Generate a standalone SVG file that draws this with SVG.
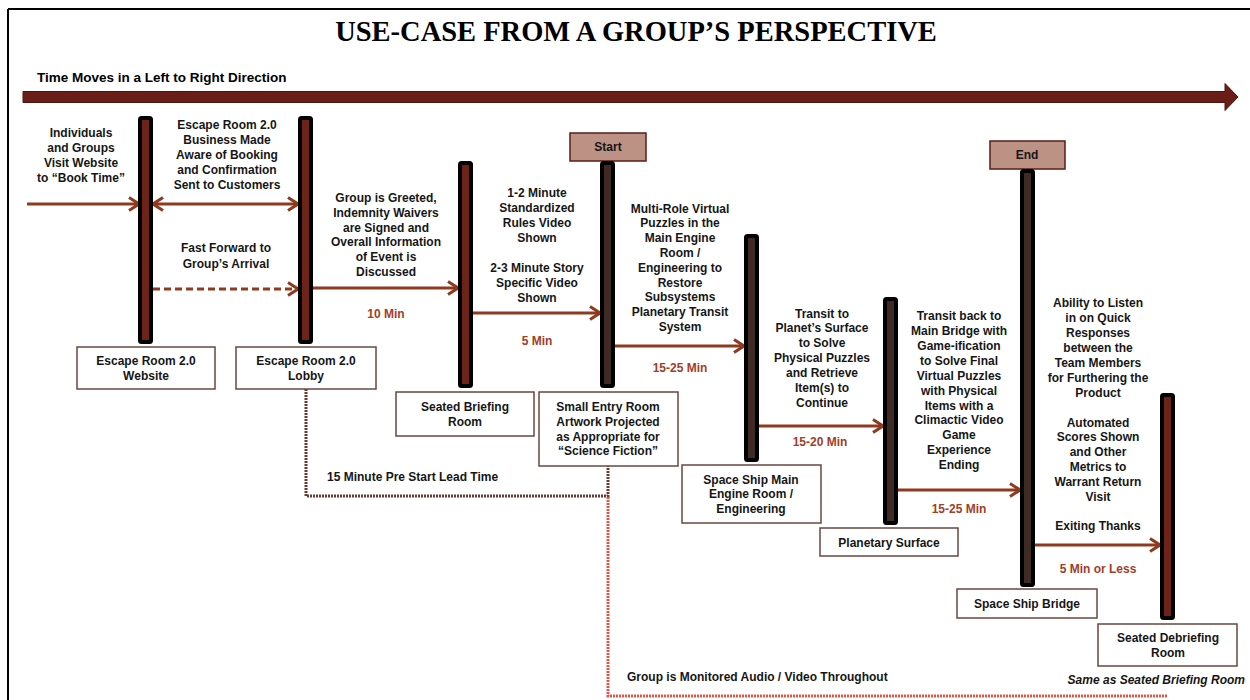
<svg xmlns="http://www.w3.org/2000/svg" width="1250" height="700" viewBox="0 0 1250 700">
<defs>
<style>
.t{font-family:"Liberation Sans",Arial,sans-serif;font-weight:bold;font-size:12px;fill:#161616;text-anchor:middle}
.tl{text-anchor:start}
.d{font-family:"Liberation Sans",Arial,sans-serif;font-weight:bold;font-size:12px;fill:#a13e28;text-anchor:middle}
.box{fill:#fff;stroke:#6b4640;stroke-width:1.5}
.tag{fill:#bc9285;stroke:#5a1d16;stroke-width:1.5}
.barR{fill:#6e2318;stroke:#000;stroke-width:4;stroke-linejoin:round}
.barB{fill:#3f2a24;stroke:#000;stroke-width:4;stroke-linejoin:round}
.ar{stroke:#8f3a1e;stroke-width:3;fill:none}
</style>
<marker id="ah" viewBox="0 0 12 16" refX="11" refY="8" markerWidth="12" markerHeight="16" markerUnits="userSpaceOnUse" orient="auto-start-reverse">
<path d="M1,1.5 L11,8 L1,14.5" fill="none" stroke="#8f3a1e" stroke-width="3"/>
</marker>
</defs>
<rect x="0" y="0" width="1250" height="700" fill="#fff"/>
<g id="frame">
<line x1="8" y1="9" x2="1250" y2="9" stroke="#000" stroke-width="2"/>
<line x1="8" y1="9" x2="8" y2="700" stroke="#000" stroke-width="2"/>
</g>
<g id="title">
<text x="636" y="41" font-family="'Liberation Serif','Times New Roman',serif" font-weight="bold" font-size="28.5" text-anchor="middle" fill="#000">USE-CASE FROM A GROUP’S PERSPECTIVE</text>
<text x="37" y="82" font-family="'Liberation Sans',Arial,sans-serif" font-weight="bold" font-size="13.5" fill="#000">Time Moves in a Left to Right Direction</text>
<path d="M23,91.5 H1225 V83.5 L1238,97 L1225,110.5 V102.5 H23 Z" fill="#6b1e17" stroke="#4a1410" stroke-width="1"/>
</g>

<g id="connectors">
<line class="ar" x1="27" y1="204" x2="139" y2="204" marker-end="url(#ah)"/>
<line class="ar" x1="153" y1="204" x2="298" y2="204" marker-start="url(#ah)" marker-end="url(#ah)"/>
<line class="ar" x1="153" y1="289" x2="298" y2="289" stroke-dasharray="7,4" marker-end="url(#ah)"/>
<line class="ar" x1="312" y1="288" x2="458" y2="288" marker-end="url(#ah)"/>
<line class="ar" x1="473" y1="313" x2="600" y2="313" marker-end="url(#ah)"/>
<line class="ar" x1="615" y1="346" x2="744" y2="346" marker-end="url(#ah)"/>
<line class="ar" x1="759" y1="426" x2="883" y2="426" marker-end="url(#ah)"/>
<line class="ar" x1="897" y1="490" x2="1020" y2="490" marker-end="url(#ah)"/>
<line class="ar" x1="1035" y1="545" x2="1160" y2="545" marker-end="url(#ah)"/>
<path d="M306,389 V496 H608 V466" fill="none" stroke="#6b3a2e" stroke-width="3" stroke-dasharray="2,1"/>
<path d="M608,497 V696 H1168" fill="none" stroke="#e0574a" stroke-width="3" stroke-dasharray="2,1"/>
<text class="t tl" x="327" y="481">15 Minute Pre Start Lead Time</text>
<text class="t tl" x="627" y="681">Group is Monitored Audio / Video Throughout</text>
<text class="d" x="386" y="318">10 Min</text>
<text class="d" x="537" y="345">5 Min</text>
<text class="d" x="680" y="372">15-25 Min</text>
<text class="d" x="820" y="446">15-20 Min</text>
<text class="d" x="959" y="513">15-25 Min</text>
<text class="d" x="1098" y="573">5 Min or Less</text>
<text class="t"><tspan x="81" y="137">Individuals</tspan><tspan x="81" y="152">and Groups</tspan><tspan x="81" y="167">Visit Website</tspan><tspan x="81" y="182">to “Book Time”</tspan></text>
<text class="t"><tspan x="227" y="129">Escape Room 2.0</tspan><tspan x="227" y="144">Business Made</tspan><tspan x="227" y="159">Aware of Booking</tspan><tspan x="227" y="174">and Confirmation</tspan><tspan x="227" y="189">Sent to Customers</tspan></text>
<text class="t"><tspan x="226" y="252">Fast Forward to</tspan><tspan x="226" y="268">Group’s Arrival</tspan></text>
<text class="t"><tspan x="386" y="202">Group is Greeted,</tspan><tspan x="386" y="217">Indemnity Waivers</tspan><tspan x="386" y="232">are Signed and</tspan><tspan x="386" y="246">Overall Information</tspan><tspan x="386" y="261">of Event is</tspan><tspan x="386" y="276">Discussed</tspan></text>
<text class="t"><tspan x="537" y="197">1-2 Minute</tspan><tspan x="537" y="212">Standardized</tspan><tspan x="537" y="227">Rules Video</tspan><tspan x="537" y="242">Shown</tspan></text>
<text class="t"><tspan x="537" y="272">2-3 Minute Story</tspan><tspan x="537" y="287">Specific Video</tspan><tspan x="537" y="302">Shown</tspan></text>
<text class="t"><tspan x="680" y="213">Multi-Role Virtual</tspan><tspan x="680" y="227">Puzzles in the</tspan><tspan x="680" y="242">Main Engine</tspan><tspan x="680" y="257">Room /</tspan><tspan x="680" y="272">Engineering to</tspan><tspan x="680" y="287">Restore</tspan><tspan x="680" y="301">Subsystems</tspan><tspan x="680" y="316">Planetary Transit</tspan><tspan x="680" y="331">System</tspan></text>
<text class="t"><tspan x="822" y="318">Transit to</tspan><tspan x="822" y="332">Planet’s Surface</tspan><tspan x="822" y="347">to Solve</tspan><tspan x="822" y="362">Physical Puzzles</tspan><tspan x="822" y="377">and Retrieve</tspan><tspan x="822" y="392">Item(s) to</tspan><tspan x="822" y="407">Continue</tspan></text>
<text class="t"><tspan x="959" y="320">Transit back to</tspan><tspan x="959" y="335">Main Bridge with</tspan><tspan x="959" y="350">Game-ification</tspan><tspan x="959" y="365">to Solve Final</tspan><tspan x="959" y="380">Virtual Puzzles</tspan><tspan x="959" y="395">with Physical</tspan><tspan x="959" y="410">Items with a</tspan><tspan x="959" y="424">Climactic Video</tspan><tspan x="959" y="439">Game</tspan><tspan x="959" y="454">Experience</tspan><tspan x="959" y="469">Ending</tspan></text>
<text class="t"><tspan x="1098" y="307">Ability to Listen</tspan><tspan x="1098" y="322">in on Quick</tspan><tspan x="1098" y="337">Responses</tspan><tspan x="1098" y="352">between the</tspan><tspan x="1098" y="367">Team Members</tspan><tspan x="1098" y="382">for Furthering the</tspan><tspan x="1098" y="397">Product</tspan></text>
<text class="t"><tspan x="1098" y="427">Automated</tspan><tspan x="1098" y="441">Scores Shown</tspan><tspan x="1098" y="456">and Other</tspan><tspan x="1098" y="471">Metrics to</tspan><tspan x="1098" y="486">Warrant Return</tspan><tspan x="1098" y="501">Visit</tspan></text>
<text class="t" x="1098" y="530">Exiting Thanks</text>
</g>

<g id="website">
<rect class="barR" x="140" y="118" width="11" height="224" rx="1.5"/>
<rect class="box" x="77" y="347" width="138" height="42"/>
<text class="t"><tspan x="146" y="365">Escape Room 2.0</tspan><tspan x="146" y="380">Website</tspan></text>
</g>
<g id="lobby">
<rect class="barR" x="300" y="118" width="11" height="224" rx="1.5"/>
<rect class="box" x="236" y="347" width="140" height="42"/>
<text class="t"><tspan x="306" y="365">Escape Room 2.0</tspan><tspan x="306" y="380">Lobby</tspan></text>
</g>
<g id="briefing">
<rect class="barR" x="460" y="163" width="11" height="223" rx="1.5"/>
<rect class="box" x="396" y="392" width="138" height="44"/>
<text class="t"><tspan x="465" y="411">Seated Briefing</tspan><tspan x="465" y="426">Room</tspan></text>
</g>
<g id="entry">
<rect class="tag" x="570" y="133" width="76" height="28"/>
<text class="t" x="608" y="151">Start</text>
<rect class="barB" x="602" y="163" width="11" height="223" rx="1.5"/>
<rect class="box" x="539" y="392" width="139" height="74"/>
<text class="t"><tspan x="608" y="411">Small Entry Room</tspan><tspan x="608" y="426">Artwork Projected</tspan><tspan x="608" y="441">as Appropriate for</tspan><tspan x="608" y="455">“Science Fiction”</tspan></text>
</g>
<g id="engine">
<rect class="barB" x="746" y="236" width="11" height="224" rx="1.5"/>
<rect class="box" x="682" y="465" width="139" height="58"/>
<text class="t"><tspan x="751" y="484">Space Ship Main</tspan><tspan x="751" y="498">Engine Room /</tspan><tspan x="751" y="513">Engineering</tspan></text>
</g>
<g id="planetary">
<rect class="barB" x="885" y="299" width="11" height="224" rx="1.5"/>
<rect class="box" x="820" y="528" width="138" height="28"/>
<text class="t" x="889" y="547">Planetary Surface</text>
</g>
<g id="bridge">
<rect class="tag" x="990" y="141" width="75" height="28"/>
<text class="t" x="1027" y="159">End</text>
<rect class="barB" x="1022" y="171" width="11" height="414" rx="1.5"/>
<rect class="box" x="957" y="589" width="140" height="29"/>
<text class="t" x="1027" y="608">Space Ship Bridge</text>
</g>
<g id="debriefing">
<rect class="barR" x="1162" y="395" width="11" height="223" rx="1.5"/>
<rect class="box" x="1098" y="624" width="139" height="42"/>
<text class="t"><tspan x="1168" y="642">Seated Debriefing</tspan><tspan x="1168" y="657">Room</tspan></text>
<text class="t" x="1245" y="684" font-style="italic" font-size="10.5" text-anchor="end" style="text-anchor:end">Same as Seated Briefing Room</text>
</g>
</svg>
